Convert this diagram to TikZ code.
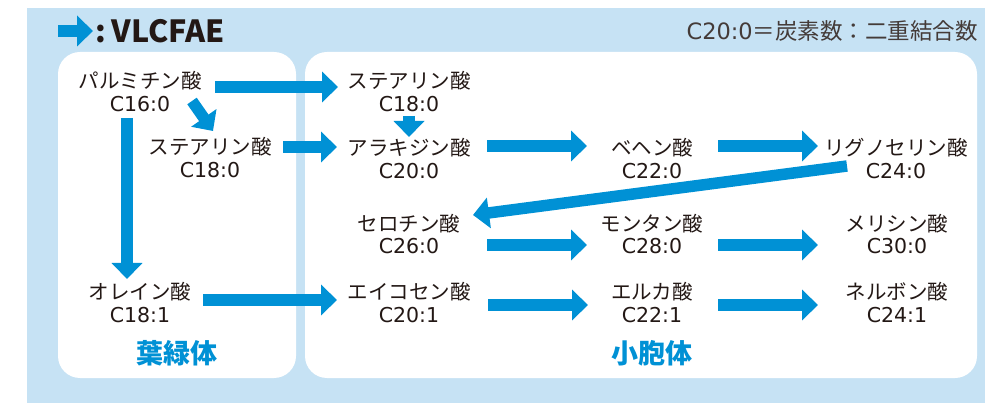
\documentclass[tikz,border=0pt]{standalone}
\usepackage{fontspec}
\setmainfont{Noto Sans CJK JP}
\newfontfamily\numfont{DejaVu Sans}
\usetikzlibrary{arrows.meta,calc}
\definecolor{bgblue}{HTML}{C6E2F4}
\definecolor{flowblue}{HTML}{0091D5}
\definecolor{ink}{HTML}{231815}
\newcommand\acidfont{\fontsize{20.5}{22.5}\selectfont}
\newcommand\cn[1]{{\numfont #1}}
\begin{document}
\begin{tikzpicture}[x=1pt,y=-1pt,
  flow/.style={draw=flowblue, line width=11.5pt, -{Triangle[width=30pt,length=16pt]}},
  acid/.style={align=center, inner sep=0pt, font=\acidfont, text=ink},
  organelle/.style={inner sep=0pt, font=\fontsize{27}{30}\selectfont\bfseries, text=flowblue},
  panel/.style={fill=white, rounded corners=22pt}]
\useasboundingbox (0,0) rectangle (985,403);
\fill[bgblue] (27,8) rectangle (985,403);
\fill[panel] (58,52) rectangle (296,378);
\fill[panel] (305,52) rectangle (977,378);

% title
\node[anchor=west, inner sep=0pt, font=\fontsize{30.5}{32}\selectfont\bfseries, text=ink] (key) at (95,31) {:\kern6pt VLCFAE};
\coordinate (keytail) at (58,31);
\draw[flow] (keytail) -- ($(key.west)+(-2,0)$);
\node[anchor=east, inner sep=0pt, font=\fontsize{22.5}{24}\selectfont, text=ink!85] (legend) at (978,31) {\cn{C20:0}＝炭素数：二重結合数};

% acids
\node[acid] (palm) at (140,91.5) {パルミチン酸\\\cn{C16:0}};
\node[acid] (stL)  at (210,157.5) {ステアリン酸\\\cn{C18:0}};
\node[acid] (ole)  at (140,302.5) {オレイン酸\\\cn{C18:1}};
\node[acid] (stR)  at (409,91.5) {ステアリン酸\\\cn{C18:0}};
\node[acid] (ara)  at (409,158.5) {アラキジン酸\\\cn{C20:0}};
\node[acid] (beh)  at (652,158.5) {ベヘン酸\\\cn{C22:0}};
\node[acid] (lig)  at (896,158.5) {リグノセリン酸\\\cn{C24:0}};
\node[acid] (cer)  at (409,234) {セロチン酸\\\cn{C26:0}};
\node[acid] (mon)  at (652,234) {モンタン酸\\\cn{C28:0}};
\node[acid] (mel)  at (897,234) {メリシン酸\\\cn{C30:0}};
\node[acid] (eic)  at (409,302.5) {エイコセン酸\\\cn{C20:1}};
\node[acid] (eru)  at (652,302.5) {エルカ酸\\\cn{C22:1}};
\node[acid] (ner)  at (897,302.5) {ネルボン酸\\\cn{C24:1}};

\node[organelle] (chl) at (177,353) {葉緑体};
\node[organelle] (er)  at (652,353) {小胞体};

% pathways
\draw[flow] ($(palm)+(75,-4.5)$) -- ($(stR)+(-71,-4.5)$);
\draw[flow] ($(palm)+(52,9.5)$) -- ($(stL)+(3,-26.5)$);
\draw[flow] ($(palm)+(-13,26.5)$) -- ($(ole)+(-13,-23.5)$);
\draw[flow] ($(stL)+(73,-10.5)$) -- ($(ara)+(-72,-11.5)$);
\draw[flow] ($(stR)+(0,24.5)$) -- ($(ara)+(0,-21.5)$);
\draw[flow] ($(ara)+(78,-12.5)$) -- ($(beh)+(-65,-12.5)$);
\draw[flow] ($(beh)+(66,-12.5)$) -- ($(lig)+(-78,-12.5)$);
\draw[flow] ($(lig)+(-49,7.5)$) -- ($(cer)+(64,-19)$);
\draw[flow] ($(cer)+(78,11)$) -- ($(mon)+(-65,11)$);
\draw[flow] ($(mon)+(66,11)$) -- ($(mel)+(-79,11)$);
\draw[flow] ($(ole)+(63,-2.5)$) -- ($(eic)+(-72,-2.5)$);
\draw[flow] ($(eic)+(79,2.5)$) -- ($(eru)+(-64,2.5)$);
\draw[flow] ($(eru)+(66,2.5)$) -- ($(ner)+(-79,2.5)$);
\end{tikzpicture}
\end{document}
